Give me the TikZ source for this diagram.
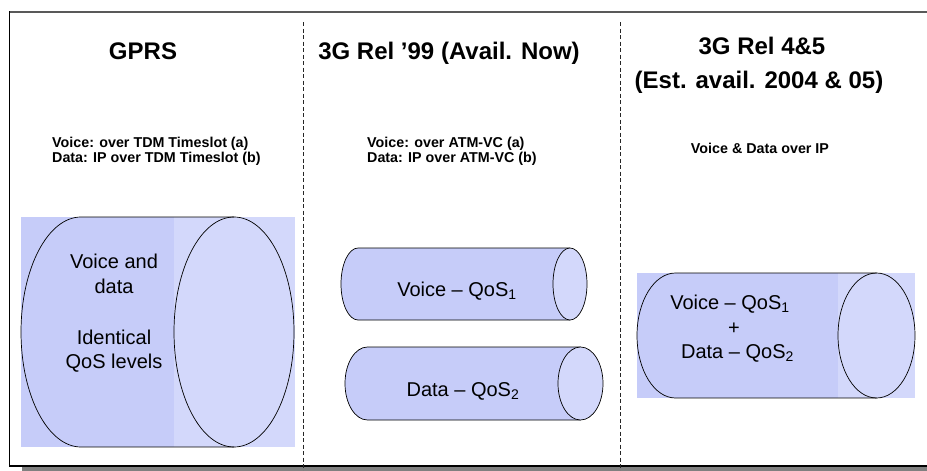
\documentclass[tikz,border=0pt]{standalone}
\usepackage{fontspec}
\setmainfont{Liberation Sans}
\begin{document}
\begin{tikzpicture}[x=1pt,y=-1pt,
  title/.style={font=\fontsize{24}{28}\selectfont\bfseries, anchor=base, inner sep=0pt},
  note/.style={font=\fontsize{14.3}{16}\selectfont\bfseries, anchor=base west, inner sep=0pt},
  body/.style={font=\fontsize{20}{24}\selectfont, anchor=base, inner sep=0pt},
  divider/.style={draw=black!85, line width=0.8pt, dash pattern=on 4pt off 2.5pt},
  outline/.style={draw=black, line width=0.7pt}]
\definecolor{tubedark}{RGB}{198,204,249}
\definecolor{tubelight}{RGB}{211,216,251}
\useasboundingbox (0,0) rectangle (927,471);

% frame with drop shadow
\fill[black!50] (22,466.5) rectangle (927,471);
\draw[black!65, line width=2pt] (9,12) -- (927,12);
\draw[black, line width=1.5pt] (9.5,11) -- (9.5,466) -- (927,466);

% column dividers
\draw[divider] (303,22) -- (303,471);
\draw[divider] (620,22) -- (620,471);

% column titles
\node[title] (t1) at (143,59) {GPRS};
\node[title] (t2) at (449,59) {3G Rel ’99 (Avail. Now)};
\node[title] (t3a) at (762,54) {3G Rel 4\&5};
\node[title] (t3b) at (759,88) {(Est. avail. 2004 \& 05)};

% transport notes
\node[note] (n1a) at (52,147) {Voice: over TDM Timeslot (a)};
\node[note] (n1b) at (52,162) {Data: IP over TDM Timeslot (b)};
\node[note] (n2a) at (367,147) {Voice: over ATM-VC (a)};
\node[note] (n2b) at (367,162) {Data: IP over ATM-VC (b)};
\node[note, anchor=base] (n3) at (760,153) {Voice \& Data over IP};

% GPRS: one wide pipe
\fill[tubedark] (21,217) rectangle (174,447);
\fill[tubelight] (174,217) rectangle (295,447);
\draw[outline] (234,217) -- (81,217)
  arc[start angle=270, end angle=90, x radius=60, y radius=115] -- (234,447);
\draw[outline] (234,332) ellipse[x radius=60, y radius=115];
\node[body] (g1) at (114,268) {Voice and};
\node[body] (g2) at (114,293) {data};
\node[body] (g3) at (114,344) {Identical};
\node[body] (g4) at (114,368) {QoS levels};

% Rel '99: two separate pipes
\fill[tubedark] (570,248) -- (358,248)
  arc[start angle=270, end angle=90, x radius=17, y radius=36] -- (570,320) -- cycle;
\draw[outline] (570,248) -- (358,248)
  arc[start angle=270, end angle=90, x radius=17, y radius=36] -- (570,320);
\draw[outline, fill=tubelight] (570,284) ellipse[x radius=17, y radius=36];
\node[body] (v1) at (457,296) {Voice – QoS\textsubscript{1}};

\fill[tubedark] (580.5,347) -- (367.5,347)
  arc[start angle=270, end angle=90, x radius=22.5, y radius=36.5] -- (580.5,420) -- cycle;
\draw[outline] (580.5,347) -- (367.5,347)
  arc[start angle=270, end angle=90, x radius=22.5, y radius=36.5] -- (580.5,420);
\draw[outline, fill=tubelight] (580.5,383.5) ellipse[x radius=22.5, y radius=36.5];
\node[body] (d1) at (463,396) {Data – QoS\textsubscript{2}};

% Rel 4&5: one shared IP pipe
\fill[tubedark] (637,273) rectangle (838,398);
\fill[tubelight] (838,273) rectangle (915,398);
\draw[outline] (876.5,273) -- (675.5,273)
  arc[start angle=270, end angle=90, x radius=38.5, y radius=62.5] -- (876.5,398);
\draw[outline] (876.5,335.5) ellipse[x radius=38.5, y radius=62.5];
\node[body] (r1) at (730,309) {Voice – QoS\textsubscript{1}};
\node[body] (r2) at (734,334) {+};
\node[body] (r3) at (737.5,358) {Data – QoS\textsubscript{2}};
\end{tikzpicture}
\end{document}
